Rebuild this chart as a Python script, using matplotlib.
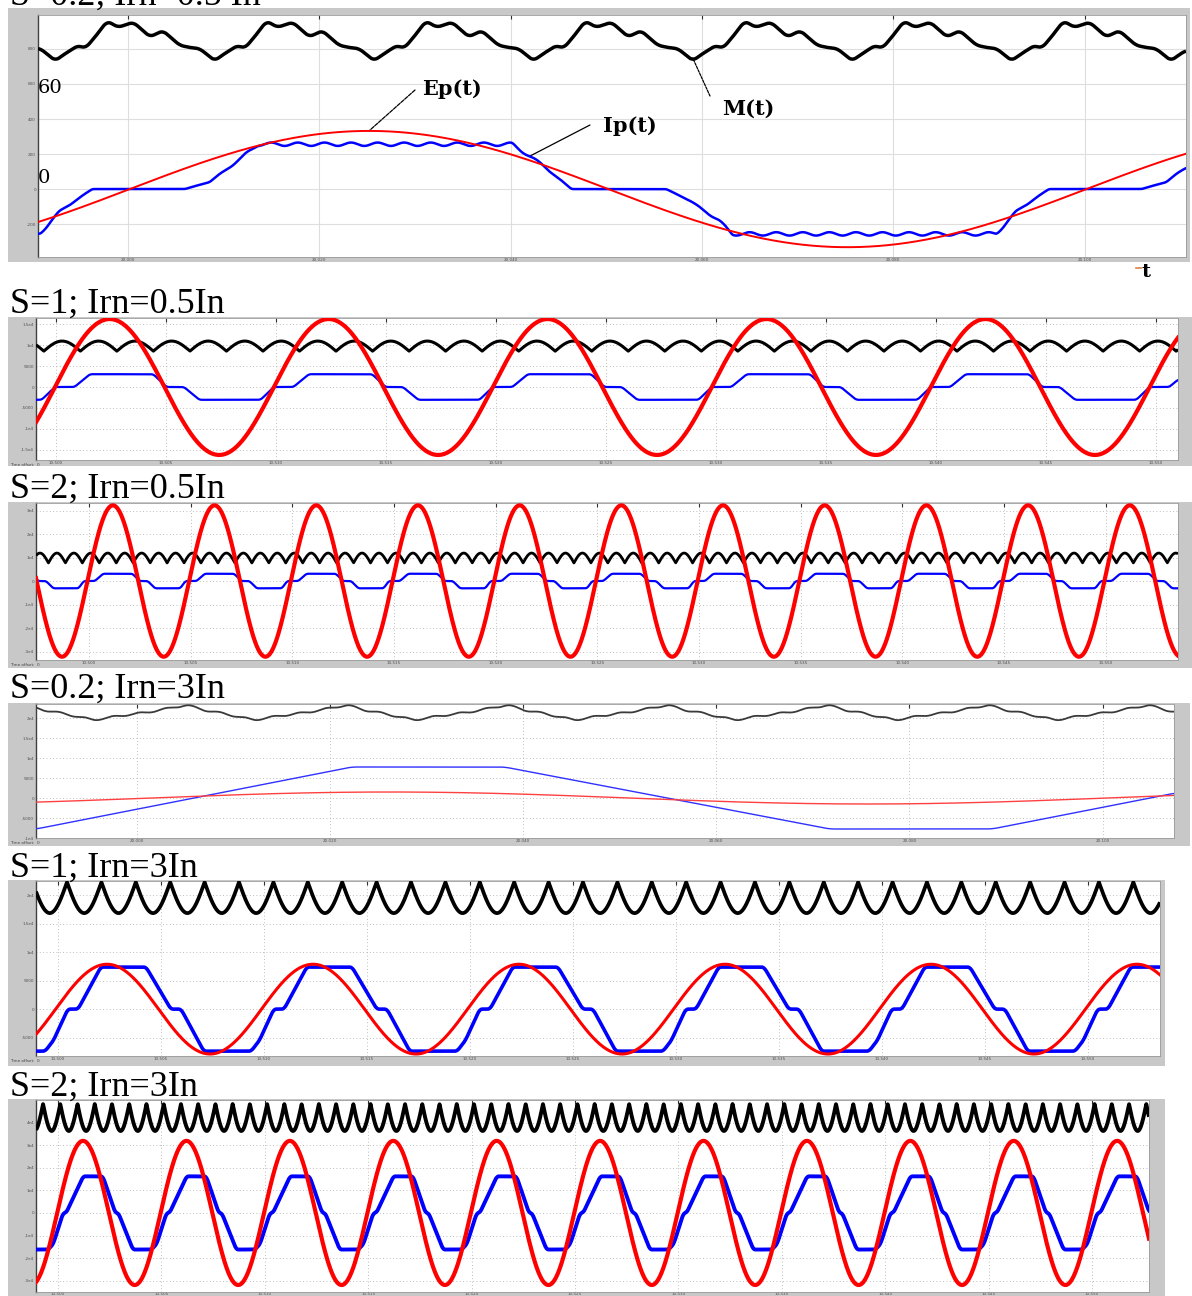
import numpy as np
import matplotlib
matplotlib.use("Agg")
import matplotlib.pyplot as plt

W, H = 1192, 1296

# ------------------------------------------------------------------ data
titles = ["S=0.2; Irn=0.5 In", "S=1; Irn=0.5In", "S=2; Irn=0.5In",
          "S=0.2; Irn=3In", "S=1; Irn=3In", "S=2; Irn=3In"]

# visible time window (grid units, one vertical grid line per unit)
t_start = [-0.47, -0.18, -0.52, -0.523, -0.214, -0.213]
t_end = [5.53, 10.2, 10.71, 5.37, 10.7, 10.55]
# visible value window (grid units, one horizontal grid line per unit)
y_low = [-1.94, -3.48, -3.36, -2.0, -1.65, -3.5]
y_high = [4.97, 3.29, 3.32, 4.7, 4.51, 5.0]

# Ep(t) (red): amplitude, period, time of a maximum
ep_amp = [1.66, 3.24, 3.22, 0.30, 1.58, 3.19]
ep_period = [5.0, 1.99, 1.0, 4.95, 2.0, 1.0]
ep_peak = [1.26, 0.49, 0.236, 1.31, 0.476, 0.242]

# Ip(t) (blue): plateau amplitude, period, start of the drawn period shape
ip_amp = [1.28, 0.61, 0.31, 1.55, 1.48, 1.62]
ip_period = [5.0, 1.99, 1.0, 4.95, 2.0, 1.0]
ip_start = [0.298, 0.17, 0.059, -0.523, -0.126, -0.097]
ip_ripple = [0.05, 0.0, 0.0, 0.0, 0.0, 0.0]
# one period of each stepped current: phase fraction -> level (x amplitude)
ip_frac = [
    [0, .026, .057, .076, .342, .373, .404, .503, .527, .558, .572, .848, .869, .903, 1.0],
    [0, .07, .36, .42, .50, .57, .85, .91, 1.0],
    [0, .08, .37, .44, .52, .59, .84, .89, 1.0],
    [0, .33, .49, .83, 1.0],
    [0, .04, .11, .16, .27, .49, .61, .66, .77, 1.0],
    [0, .05, .145, .175, .34, .53, .65, .68, .82, 1.0],
]
ip_level = [
    [0, .16, .66, 1, 1, .55, 0, 0, -.25, -.7, -1, -1, -.5, 0, 0],
    [0, 1, 1, 0, 0, -1, -1, 0, 0],
    [0, 1, 1, 0, 0, -1, -1, 0, 0],
    [-1, 1, 1, -1, -1],
    [-1, -.75, 0, 0, 1, 1, 0, 0, -1, -1],
    [-1, -.85, 0, 0, 1, 1, 0, 0, -1, -1],
]

# M(t) (black): kind of ripple shape, min, max, period, phase
m_kind = ["knots", "dip", "dip", "knots", "peak", "peak"]
m_lo = [3.66, 1.71, 0.77, 3.9, 3.38, 3.63]
m_hi = [4.80, 2.19, 1.19, 4.65, 4.47, 4.82]
m_period = [0.833, 0.332, 0.1667, 0.83, 0.334, 0.1667]
m_phase = [-0.38, 0.555, 0.269, 0.254, 0.087, -0.145]
m_ripple = [0.0, 0.0, 0.0, 0.05, 0.0, 0.0]
m_frac = {0: [0, .05, .094, .144, .188, .26, .325, .394, .49, .594, .675, .78, .85, .906, 1.0],
          3: [0, .12, .25, .42, .6, .75, .88, 1.0]}
m_level = {0: [0, .15, .26, .39, .31, .65, 1.0, .84, .97, .60, .76, .39, .33, .31, 0],
           3: [1, .65, .4, 0, .3, .5, .75, 1]}

# tiny scope tick labels
y_tick_labels = [
    ["-200", "0", "200", "400", "600", "800"],
    ["-1.5e4", "-1e4", "-5000", "0", "5000", "1e4", "1.5e4"],
    ["-3e4", "-2e4", "-1e4", "0", "1e4", "2e4", "3e4"],
    ["-1e4", "-5000", "0", "5000", "1e4", "1.5e4", "2e4"],
    ["-5000", "0", "5000", "1e4", "1.5e4", "2e4"],
    ["-3e4", "-2e4", "-1e4", "0", "1e4", "2e4", "3e4", "4e4", ""],
]
x_tick_base = [20.00, 10.50, 10.50, 20.00, 10.50, 10.50]
x_tick_step = [0.02, 0.005, 0.005, 0.02, 0.005, 0.005]

# ------------------------------------------------------------------ layout (pixels)
frames = [(8, 8, 1190, 262), (8, 317, 1192, 466), (8, 502, 1192, 668),
          (8, 703, 1190, 846), (8, 880, 1165, 1066), (8, 1099, 1165, 1296)]
boxes = [(38, 15, 1186, 257), (36, 318, 1178, 460), (36, 503, 1178, 660),
         (36, 704, 1174, 838), (36, 881, 1160, 1056), (36, 1100, 1149, 1292)]
title_base = [5, 313, 498, 698, 877, 1096]
lw_m = [2.5, 2.2, 2.0, 1.3, 2.7, 2.8]
lw_e = [1.4, 3.0, 3.0, 1.0, 2.2, 3.0]
lw_i = [1.8, 1.6, 1.6, 1.0, 2.6, 2.8]
col_m = ["black", "black", "black", "#3a3a3a", "black", "black"]
col_e = ["#ff0000", "#ff0000", "#ff0000", "#ff4040", "#ff0000", "#ff0000"]
col_i = ["#0000ff", "#0000ff", "#0000ff", "#3030ff", "#0000ff", "#0000ff"]
m_smooth_px = [9, 0, 0, 8, 0, 0]
i_smooth_px = [4, 5, 4, 12, 5, 4]


def periodic(t, start, period, fr, lv):
    ph = np.mod((t - start) / period, 1.0)
    return np.interp(ph, fr, lv)


def smooth(y, n):
    if n < 2:
        return y
    k = np.ones(n) / n
    pad = n // 2
    yp = np.pad(y, (pad, n - 1 - pad), mode="edge")
    return np.convolve(yp, k, mode="valid")


fig = plt.figure(figsize=(W / 100, H / 100), dpi=100)
fig.patch.set_facecolor("white")

axes = []
for i in range(6):
    fl, ft, fr_, fb = frames[i]
    bg = fig.add_axes([fl / W, 1 - fb / H, (fr_ - fl) / W, (fb - ft) / H], zorder=0)
    bg.set_facecolor("#c8c8c8")
    bg.set_xticks([])
    bg.set_yticks([])
    for s in bg.spines.values():
        s.set_visible(False)

    l, t, r, b = boxes[i]
    ax = fig.add_axes([l / W, 1 - b / H, (r - l) / W, (b - t) / H], zorder=1)
    axes.append(ax)
    ax.set_facecolor("white")
    ax.set_xlim(t_start[i], t_end[i])
    ax.set_ylim(y_low[i], y_high[i])

    n = 9000
    tt = np.linspace(t_start[i], t_end[i], n)
    spp = (r - l) / n  # pixels per sample

    # M(t)
    if m_kind[i] == "dip":
        mv = m_lo[i] + (m_hi[i] - m_lo[i]) * np.abs(np.sin(np.pi * (tt - m_phase[i]) / m_period[i]))
    elif m_kind[i] == "peak":
        mv = m_hi[i] - (m_hi[i] - m_lo[i]) * np.abs(np.sin(np.pi * (tt - m_phase[i]) / m_period[i]))
    else:
        mv = m_lo[i] + (m_hi[i] - m_lo[i]) * periodic(tt, m_phase[i], m_period[i], m_frac[i], m_level[i])
        mv = mv + m_ripple[i] * np.sin(2 * np.pi * 6 * (tt - m_phase[i]) / m_period[i])
    mv = smooth(mv, int(m_smooth_px[i] / spp))

    # Ep(t)
    ev = ep_amp[i] * np.cos(2 * np.pi * (tt - ep_peak[i]) / ep_period[i])

    # Ip(t)
    base = periodic(tt, ip_start[i], ip_period[i], ip_frac[i], ip_level[i])
    iv = ip_amp[i] * base + ip_ripple[i] * np.abs(base) * np.sin(2 * np.pi * 36 * (tt - ip_start[i]) / ip_period[i])
    iv = smooth(iv, int(i_smooth_px[i] / spp))

    ax.plot(tt, mv, color=col_m[i], lw=lw_m[i], zorder=3, solid_capstyle="butt")
    ax.plot(tt, iv, color=col_i[i], lw=lw_i[i], zorder=4)
    ax.plot(tt, ev, color=col_e[i], lw=lw_e[i], zorder=5)

    xt = np.arange(np.ceil(t_start[i]), np.floor(t_end[i]) + 1)
    yt = np.arange(np.ceil(y_low[i]), np.floor(y_high[i]) + 1)
    ax.set_xticks(xt)
    ax.set_yticks(yt)
    ax.set_xticklabels([f"{x_tick_base[i] + k * x_tick_step[i]:.3f}" for k in range(len(xt))])
    ax.set_yticklabels(y_tick_labels[i][:len(yt)])
    ax.tick_params(axis="both", labelsize=3.0, labelcolor="#505050", length=0, pad=1.5)
    ax.tick_params(axis="x", top=True, direction="in", length=3, color="#303030", width=0.8,
                   bottom=False, pad=1.0 if i < 5 else 0.2)
    if i == 0:
        ax.grid(True, color="#dedede", lw=0.8, ls="-")
    else:
        ax.grid(True, color="#a8a8a8", lw=0.6, ls=(0, (1, 3)))
    for s in ["top", "right", "bottom"]:
        ax.spines[s].set_color("#9a9a9a")
        ax.spines[s].set_linewidth(0.6)
    ax.spines["left"].set_color("#404040")
    ax.spines["left"].set_linewidth(1.0)

    fig.text(10 / W, 1 - title_base[i] / H, titles[i], family="Liberation Serif",
             fontsize=26, va="baseline", ha="left", color="black")
    if 0 < i < 5:
        fig.text(10 / W, 1 - (b + 5) / H, "Time offset:  0", fontsize=3, color="#404040",
                 va="center", ha="left")

# ------------------------------------------------------------------ panel 1 annotations
ax = axes[0]
serif = "DejaVu Serif"
fig.text(38 / W, 1 - 93 / H, "60", family=serif, fontsize=14, va="baseline", zorder=10)
fig.text(38 / W, 1 - 183 / H, "0", family=serif, fontsize=14, va="baseline", zorder=10)
fig.text(422 / W, 1 - 95 / H, "Ep(t)", family=serif, fontsize=15, fontweight="bold",
         va="baseline", zorder=10)
fig.text(603 / W, 1 - 132 / H, "Ip(t)", family=serif, fontsize=15, fontweight="bold",
         va="baseline", zorder=10)
fig.text(722 / W, 1 - 115 / H, "M(t)", family=serif, fontsize=15, fontweight="bold",
         va="baseline", zorder=10)
fig.text(1142 / W, 1 - 277 / H, "t", family=serif, fontsize=14, fontweight="bold",
         va="baseline", zorder=10)
fig.lines.append(plt.Line2D([1136 / W, 1141 / W], [1 - 268 / H, 1 - 268 / H],
                            transform=fig.transFigure, color="#e08040", lw=1.2))

t_ip = 2.10
ip_at = ip_amp[0] * periodic(np.array([t_ip]), ip_start[0], ip_period[0], ip_frac[0], ip_level[0])[0]
t_m = m_phase[0] + 4 * m_period[0]
ax.annotate("", xy=(ep_peak[0], ep_amp[0]), xycoords="data", xytext=(415, H - 90),
            textcoords="figure pixels", annotation_clip=False,
            arrowprops=dict(arrowstyle="-", lw=0.9, color="black",
                            shrinkA=0, shrinkB=0, linestyle=(0, (3, 1))))
ax.annotate("", xy=(t_ip, ip_at), xycoords="data", xytext=(590, H - 125),
            textcoords="figure pixels", annotation_clip=False,
            arrowprops=dict(arrowstyle="-", lw=0.9, color="black", shrinkA=0, shrinkB=0))
ax.annotate("", xy=(t_m, m_lo[0] + 0.08), xycoords="data", xytext=(710, H - 96),
            textcoords="figure pixels", annotation_clip=False,
            arrowprops=dict(arrowstyle="-", lw=0.9, color="black",
                            shrinkA=0, shrinkB=0, linestyle=(0, (2, 1))))

fig.savefig("out.png", dpi=100)
